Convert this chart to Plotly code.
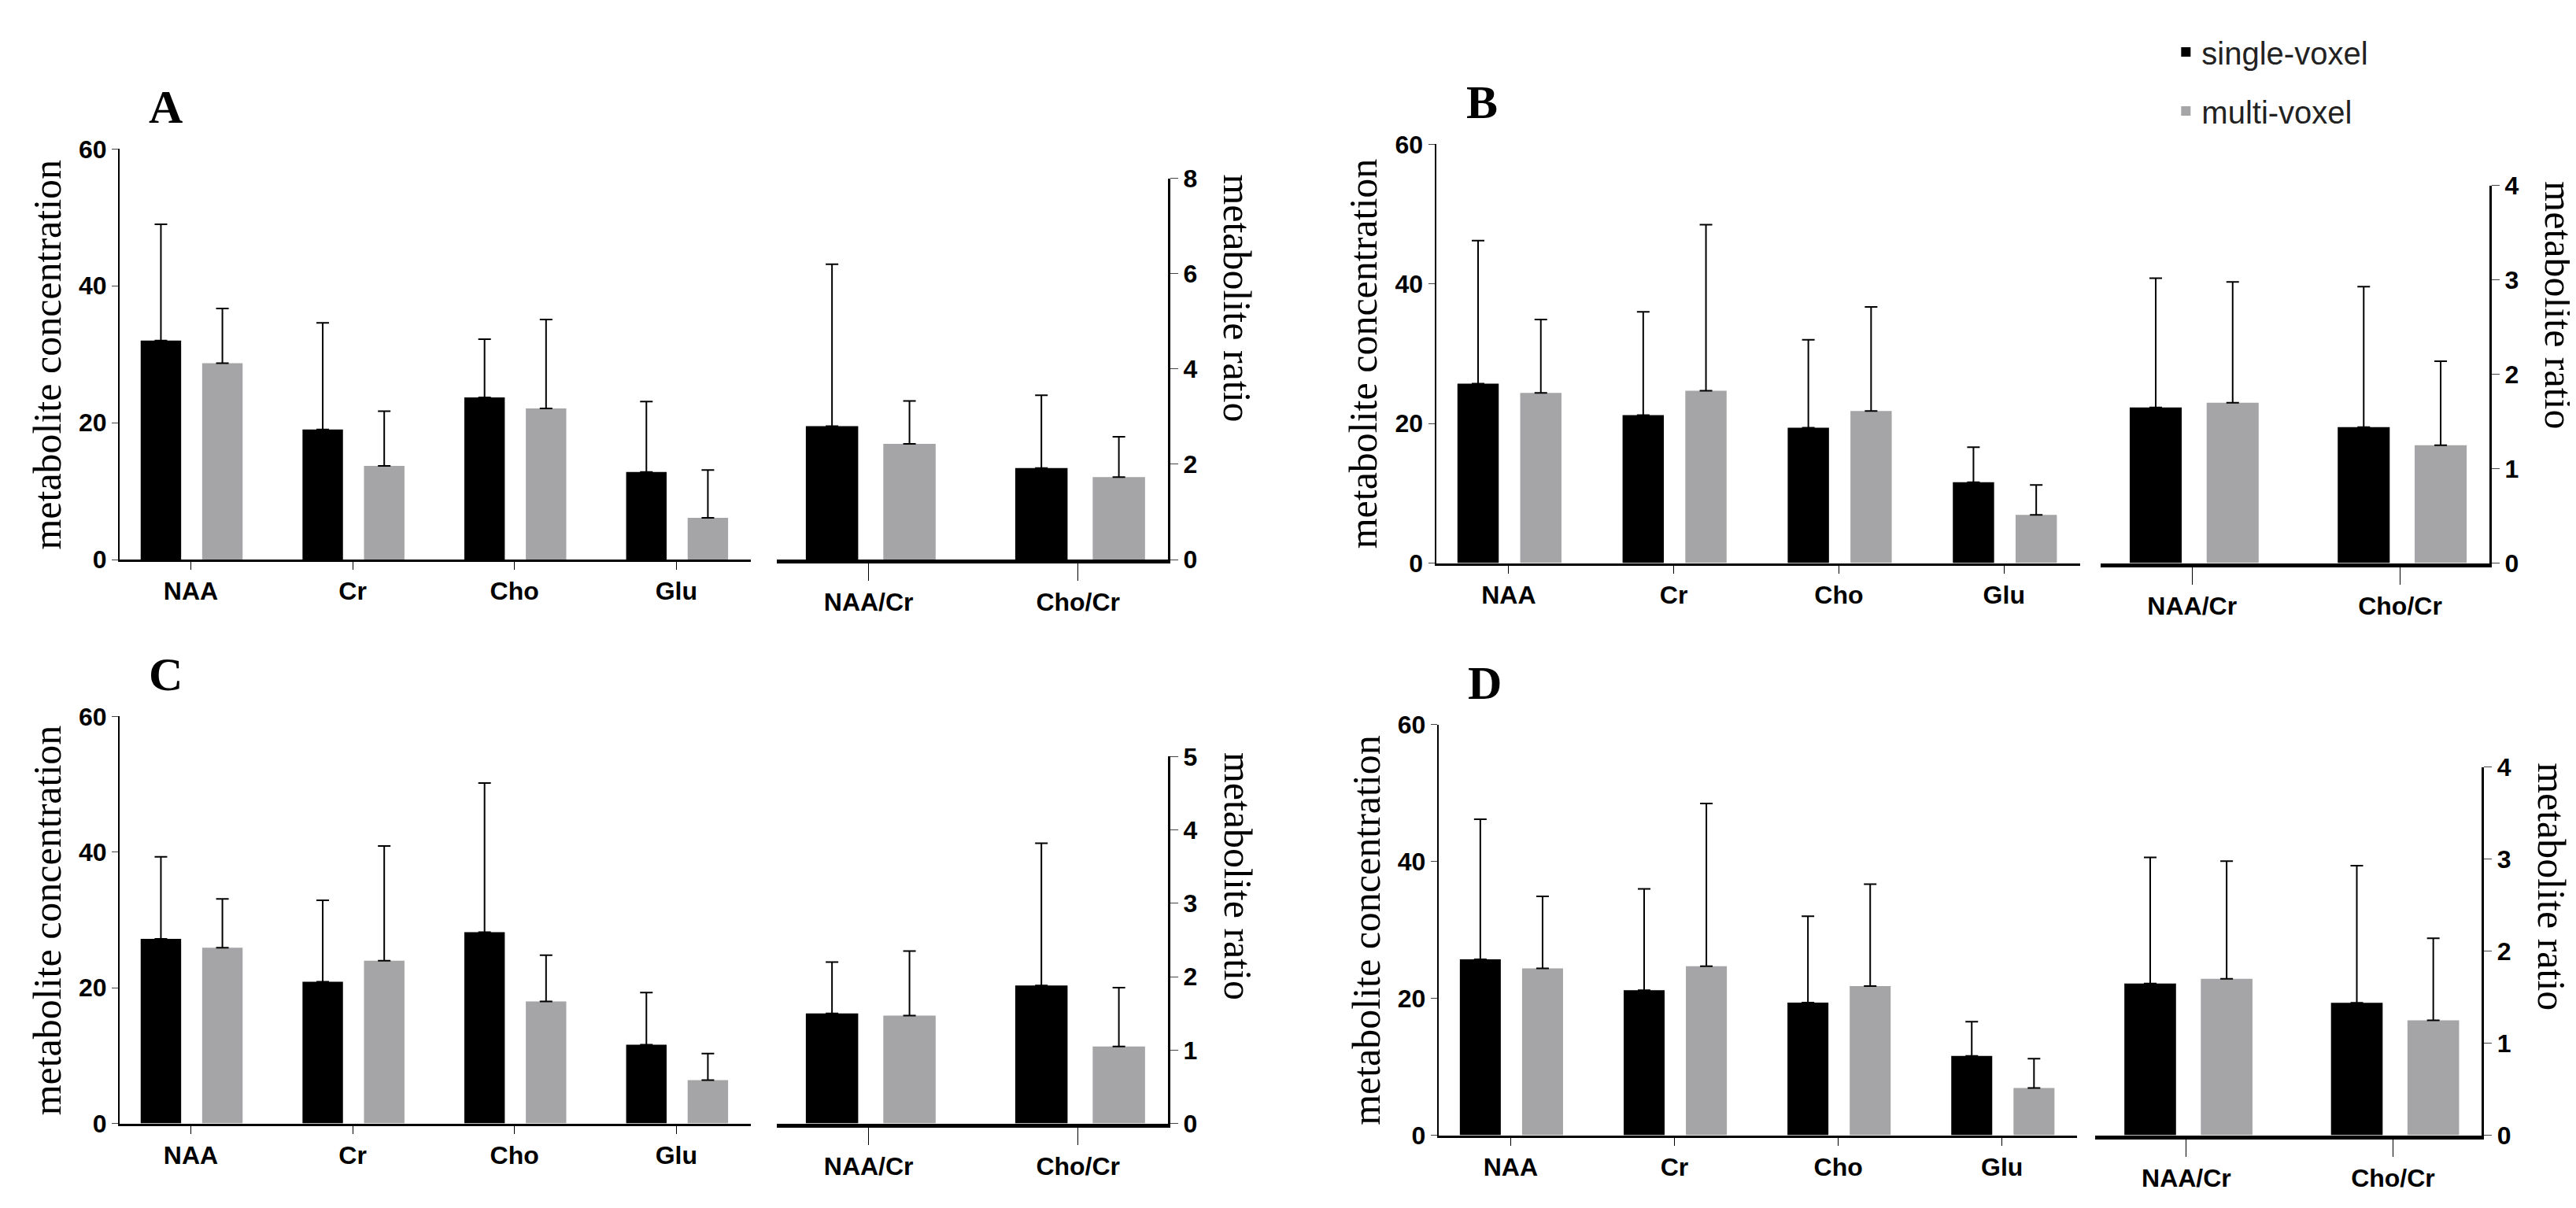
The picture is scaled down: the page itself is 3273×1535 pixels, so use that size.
import plotly.graph_objects as go

CATS = ["NAA", "Cr", "Cho", "Glu"]
RATIO_CATS = ["NAA/Cr", "Cho/Cr"]

# panel A
A_SINGLE = [32.0, 19.0, 23.7, 12.8]
A_SINGLE_UP = [49.0, 34.6, 32.2, 23.1]
A_MULTI = [28.7, 13.7, 22.1, 6.1]
A_MULTI_UP = [36.7, 21.7, 35.1, 13.1]
A_R_SINGLE = [2.8, 1.92]
A_R_SINGLE_UP = [6.2, 3.45]
A_R_MULTI = [2.43, 1.73]
A_R_MULTI_UP = [3.33, 2.58]

# panels B and D
B_SINGLE = [25.7, 21.2, 19.4, 11.6]
B_SINGLE_UP = [46.2, 36.0, 32.0, 16.6]
B_MULTI = [24.4, 24.7, 21.8, 6.9]
B_MULTI_UP = [34.9, 48.5, 36.7, 11.2]
B_R_SINGLE = [1.65, 1.44]
B_R_SINGLE_UP = [3.02, 2.93]
B_R_MULTI = [1.7, 1.25]
B_R_MULTI_UP = [2.98, 2.14]

# panel C
C_SINGLE = [27.2, 20.9, 28.2, 11.6]
C_SINGLE_UP = [39.3, 32.9, 50.2, 19.3]
C_MULTI = [25.9, 24.0, 18.0, 6.4]
C_MULTI_UP = [33.1, 40.9, 24.8, 10.3]
C_R_SINGLE = [1.5, 1.88]
C_R_SINGLE_UP = [2.2, 3.82]
C_R_MULTI = [1.47, 1.05]
C_R_MULTI_UP = [2.35, 1.85]

BLACK = "#000000"
GREY = "#a5a5a8"
TICKFONT = dict(family="Liberation Sans", size=32, color="black", weight="bold")


def bar(x, y, up, color, offset, xa, ya, name, show):
    return go.Bar(
        x=x, y=y, name=name, showlegend=show, legendgroup=name,
        marker=dict(color=color, line=dict(width=0)),
        width=0.25, offset=offset, xaxis=xa, yaxis=ya,
        error_y=dict(type="data", symmetric=False,
                     array=[u - v for u, v in zip(up, y)], arrayminus=[0] * len(y),
                     color="black", thickness=2, width=8),
    )


def add_panel(fig, n, letter, data, xdom, ydom, rtop, rmax, rdtick):
    """Add one lettered panel: concentrations on the left, ratios on the right."""
    single, single_up, multi, multi_up, rs, rs_up, rm, rm_up = data
    xl, xr, yl, yr = "x%d" % (2 * n - 1), "x%d" % (2 * n), "y%d" % (2 * n - 1), "y%d" % (2 * n)
    show = n == 1
    fig.add_trace(bar(CATS, single, single_up, BLACK, -0.31, xl, yl, "single-voxel", show))
    fig.add_trace(bar(CATS, multi, multi_up, GREY, 0.07, xl, yl, "multi-voxel", show))
    fig.add_trace(bar(RATIO_CATS, rs, rs_up, BLACK, -0.30, xr, yr, "single-voxel", False))
    fig.add_trace(bar(RATIO_CATS, rm, rm_up, GREY, 0.07, xr, yr, "multi-voxel", False))

    xcommon = dict(showline=True, linecolor="black", ticks="outside", tickcolor="black",
                   tickfont=TICKFONT, showgrid=False, zeroline=False, fixedrange=True)
    fig.layout["xaxis%d" % (2 * n - 1)] = dict(xcommon, domain=xdom[0], anchor=yl,
                                               range=[-0.44, 3.46], linewidth=3, ticklen=10)
    fig.layout["xaxis%d" % (2 * n)] = dict(xcommon, domain=xdom[1], anchor=yr,
                                           range=[-0.44, 1.43], linewidth=5, ticklen=22)
    fig.layout["yaxis%d" % (2 * n - 1)] = dict(
        domain=ydom, anchor=xl, range=[0, 60], dtick=20, showline=True, linecolor="black",
        linewidth=2, ticks="outside", ticklen=8, tickfont=TICKFONT, showgrid=False,
        zeroline=False)
    fig.layout["yaxis%d" % (2 * n)] = dict(
        domain=[ydom[0], rtop], anchor=xr, side="right", range=[0, rmax], dtick=rdtick,
        showline=True, linecolor="black", linewidth=3, ticks="outside", ticklen=10,
        tickfont=TICKFONT, showgrid=False, zeroline=False)

    mid = (ydom[0] + ydom[1]) / 2
    fig.add_annotation(text=letter, x=xdom[0][0] + 0.018, y=ydom[1] + 0.012, xref="paper",
                       yref="paper", xanchor="center", yanchor="bottom", showarrow=False,
                       font=dict(family="Liberation Serif", size=60, color="black", weight="bold"))
    fig.add_annotation(text="metabolite concentration", x=xdom[0][0] - 0.028, y=mid,
                       xref="paper", yref="paper", xanchor="center", yanchor="middle",
                       textangle=-90, showarrow=False,
                       font=dict(family="Liberation Serif", size=50, color="black"))
    fig.add_annotation(text="metabolite ratio", x=xdom[1][1] + 0.027, y=rtop + 0.005,
                       xref="paper", yref="paper", xanchor="center", yanchor="top",
                       textangle=90, showarrow=False,
                       font=dict(family="Liberation Serif", size=50, color="black"))


def main():
    fig = go.Figure()

    add_panel(fig, 1, "A", (A_SINGLE, A_SINGLE_UP, A_MULTI, A_MULTI_UP,
                            A_R_SINGLE, A_R_SINGLE_UP, A_R_MULTI, A_R_MULTI_UP),
              ([0.044, 0.289], [0.299, 0.451]), [0.543, 0.891], 0.866, 8, 2)
    add_panel(fig, 2, "B", (B_SINGLE, B_SINGLE_UP, B_MULTI, B_MULTI_UP,
                            B_R_SINGLE, B_R_SINGLE_UP, B_R_MULTI, B_R_MULTI_UP),
              ([0.555, 0.805], [0.813, 0.964]), [0.54, 0.895], 0.86, 4, 1)
    add_panel(fig, 3, "C", (C_SINGLE, C_SINGLE_UP, C_MULTI, C_MULTI_UP,
                            C_R_SINGLE, C_R_SINGLE_UP, C_R_MULTI, C_R_MULTI_UP),
              ([0.044, 0.289], [0.299, 0.451]), [0.065, 0.41], 0.376, 5, 1)
    add_panel(fig, 4, "D", (B_SINGLE, B_SINGLE_UP, B_MULTI, B_MULTI_UP,
                            B_R_SINGLE, B_R_SINGLE_UP, B_R_MULTI, B_R_MULTI_UP),
              ([0.556, 0.804], [0.811, 0.961]), [0.055, 0.403], 0.367, 4, 1)

    fig.update_layout(
        width=3273, height=1535, barmode="overlay",
        plot_bgcolor="white", paper_bgcolor="white",
        margin=dict(l=0, r=0, t=0, b=0),
        legend=dict(x=0.84, y=0.995, xanchor="left", yanchor="top",
                    font=dict(family="Liberation Sans", size=40, color="#222"),
                    itemsizing="constant", tracegroupgap=20),
    )

    fig.write_html("out.html")


if __name__ == "__main__":
    main()
